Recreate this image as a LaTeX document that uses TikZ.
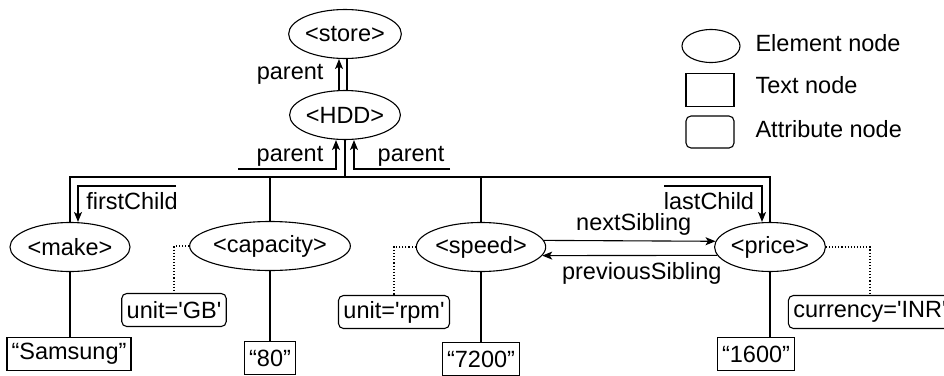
\documentclass[tikz,border=0pt]{standalone}
\usepackage{fontspec}
\setmainfont{Liberation Sans}[Ligatures=TeXOff]
\usetikzlibrary{shapes.geometric,arrows.meta}

\begin{document}
\begin{tikzpicture}[
  x=1pt, y=-1pt,
  font=\fontsize{23.5}{28}\selectfont,
  line width=1.1pt,
  element/.style={ellipse, draw, inner sep=0pt, minimum height=49pt},
  textnode/.style={rectangle, draw, inner xsep=4.5pt, inner ysep=0pt, minimum height=33pt},
  attrnode/.style={rectangle, draw, rounded corners=5pt, inner xsep=5pt, inner ysep=0pt, minimum height=33pt},
  link/.style={-{Stealth[length=10pt, width=8pt, inset=2.5pt]}},
  attrlink/.style={dotted},
  link label/.style={inner sep=2pt}
]
  \useasboundingbox (0,0) rectangle (944,375);

  % element nodes
  \node[element] (store)    at (345,34)  {<store>};
  \node[element] (HDD)      at (345,115) {<HDD>};
  \node[element] (make)     at (70,247)  {<make>};
  \node[element] (capacity) at (270,246) {<capacity>};
  \node[element] (speed)    at (481,247) {<speed>};
  \node[element] (price)    at (770,247) {<price>};

  % text nodes
  \node[textnode] (samsung) at (69,354)  {“Samsung”};
  \node[textnode] (t80)     at (270,358) {“80”};
  \node[textnode] (t7200)   at (481,359) {“7200”};
  \node[textnode] (t1600)   at (756,354) {“1600”};

  % attribute nodes
  \node[attrnode] (unitGB)   at (174,310) {unit='GB'};
  \node[attrnode] (unitrpm)  at (394,312) {unit='rpm'};
  \node[attrnode] (currency) at (870,312) {currency='INR'};

  % legend
  \node[element, minimum width=58pt, minimum height=33pt] (lgElem) at (711,46) {};
  \node[textnode, minimum width=48pt] (lgText) at (710,90) {};
  \node[attrnode, minimum width=48pt, minimum height=32pt] (lgAttr) at (710,132) {};
  \node[anchor=west, inner sep=0pt] (lgElemLabel) at (755,43.5) {Element node};
  \node[anchor=west, inner sep=0pt] (lgTextLabel) at (755,85)   {Text node};
  \node[anchor=west, inner sep=0pt] (lgAttrLabel) at (755,129)  {Attribute node};

  % tree
  \coordinate (bus) at (345,177);
  \draw ([xshift=2pt]HDD.north) -- ([xshift=2pt]store.south);
  \draw[link] ([xshift=-6pt]HDD.north) -- node[link label, left=13pt] {parent} ([xshift=-6pt]store.south);
  \draw (HDD) -- (bus);
  \draw (make.north) |- (bus) -| (price.north);
  \draw (capacity) -- (capacity |- bus);
  \draw (speed) -- (speed |- bus);

  % parent links
  \coordinate (pl) at (238,169);
  \coordinate (pr) at (450,169);
  \draw[link] (pl) -| node[link label, pos=0.25, above, xshift=3pt] {parent} ([xshift=-9pt]HDD.south);
  \draw[link] (pr) -| node[link label, pos=0.25, above, xshift=9pt] {parent} ([xshift=9pt]HDD.south);

  % child links
  \coordinate (fc) at (176,186);
  \coordinate (lc) at (664,186);
  \draw[link] (fc) -| node[link label, pos=0.25, below=4pt, xshift=5pt] {firstChild} ([xshift=8pt]make.north);
  \draw[link] (lc) -| node[link label, pos=0.25, below=4pt, xshift=-4pt] {lastChild} ([xshift=-8pt]price.north);

  % sibling links
  \draw[link] (speed.6) -- node[link label, above=3pt, xshift=4pt] {nextSibling} (price.174);
  \draw[link] (price.189) -- node[link label, below=4.5pt, xshift=12pt] {previousSibling} (speed.352);

  % attributes
  \draw[attrlink] (capacity.west) -| (unitGB.north);
  \draw[attrlink] (speed.west) -| (unitrpm.north);
  \draw[attrlink] (price.east) -| (currency.north);

  % text children
  \draw (make.south) -- (make.south |- samsung.north);
  \draw (capacity) -- (t80);
  \draw (speed) -- (t7200);
  \draw (price.south) -- (price.south |- t1600.north);
\end{tikzpicture}
\end{document}
